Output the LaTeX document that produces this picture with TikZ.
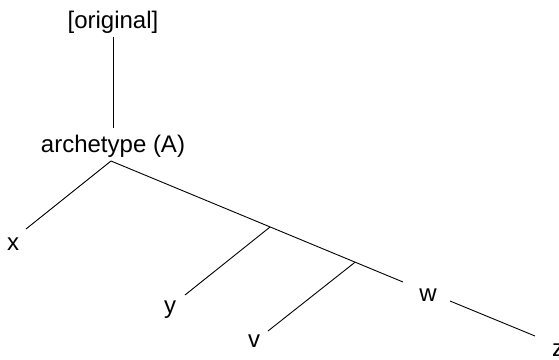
\documentclass[tikz,border=0pt]{standalone}
\usepackage{fontspec}
\setmainfont{Liberation Sans}
\usetikzlibrary{positioning,calc}

\begin{document}
\begin{tikzpicture}[
    x=1pt, y=-1pt,
    every node/.style={font=\fontsize{24}{28}\selectfont},
    lbl/.style={inner sep=0pt, anchor=base},
    edge/.style={line width=0.9pt, line cap=butt}
]
\useasboundingbox (0,0) rectangle (559,359);
% labels
\node[lbl] (orig) at (113,28) {[original]};
\node[lbl] (arch) at (113,152) {archetype (A)};
\node[lbl] (x) at (13,250) {x};
\node[lbl] (y) at (170,313) {y};
\node[lbl] (v) at (254,347) {v};
\node[lbl] (w) at (428,301) {w};
\node[lbl] (z) at (558,356) {z};
% branch points and line ends
\coordinate (apex) at (111,161);
\coordinate (xend) at (26,229);
\coordinate (wend) at (403,282);
\coordinate (j1) at ($(apex)!0.545!(wend)$);
\coordinate (j2) at ($(apex)!0.836!(wend)$);
\coordinate (yend) at (185,295);
\coordinate (vend) at (268,331);
\coordinate (wz) at (450,301);
\coordinate (zend) at (535,336);
% tree
\draw[edge, shorten <=4pt, shorten >=6.5pt] (orig.south) -- (arch.north);
\draw[edge] (apex) -- (xend);
\draw[edge] (apex) -- (wend);
\draw[edge] (j1) -- (yend);
\draw[edge] (j2) -- (vend);
\draw[edge] (wz) -- (zend);
\end{tikzpicture}
\end{document}
